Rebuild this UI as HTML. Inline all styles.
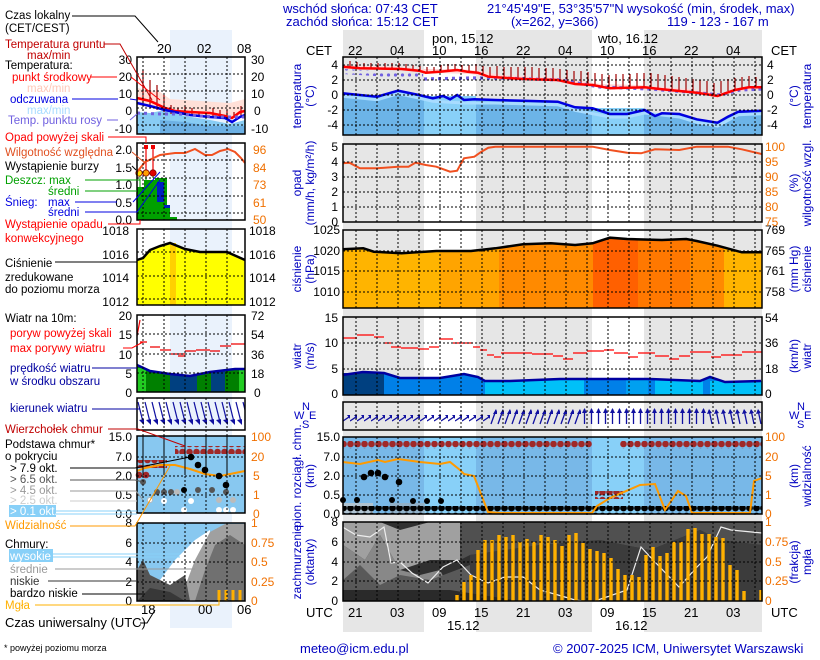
<!DOCTYPE html>
<html><head><meta charset="utf-8"><style>
body{margin:0;background:#fff;}
svg{display:block;font-family:"Liberation Sans",sans-serif;}
</style></head><body>
<svg width="820" height="660" viewBox="0 0 820 660" xmlns="http://www.w3.org/2000/svg">
<defs>
<pattern id="rd" x="340" y="0" width="7" height="8" patternUnits="userSpaceOnUse"><circle cx="3.5" cy="4" r="3.3" fill="#a02828"/></pattern>
<pattern id="bd" x="340" y="0" width="7" height="8" patternUnits="userSpaceOnUse"><circle cx="3.5" cy="4" r="3.4" fill="#000"/></pattern>
<pattern id="pd" x="343" y="0" width="7" height="6" patternUnits="userSpaceOnUse"><circle cx="3.5" cy="3" r="1.6" fill="#7060e0"/></pattern>
<pattern id="a1" x="343" y="402" width="7" height="28" patternUnits="userSpaceOnUse"><path d="M0,19 L9,13" stroke="#1010a0" stroke-width="1.3"/><path d="M9,13 L4,13 L7,17Z" fill="#1010a0"/></pattern>
<pattern id="a2" x="343" y="402" width="7" height="28" patternUnits="userSpaceOnUse"><path d="M1,22 L6,8" stroke="#1010a0" stroke-width="1.3"/><path d="M6,7 L3,12 L8,12Z" fill="#1010a0"/></pattern>
<pattern id="a3" x="343" y="402" width="7" height="28" patternUnits="userSpaceOnUse"><path d="M3.5,22 L3.5,7" stroke="#1010a0" stroke-width="1.3"/><path d="M3.5,6 L1,11 L6,11Z" fill="#1010a0"/></pattern>
<pattern id="a4" x="343" y="402" width="7" height="28" patternUnits="userSpaceOnUse"><path d="M5,22 L2,8" stroke="#1010a0" stroke-width="1.3"/><path d="M2,7 L0,12 L5,11Z" fill="#1010a0"/></pattern>
<pattern id="la" x="137" y="398" width="7" height="32" patternUnits="userSpaceOnUse"><path d="M1,4 L6,24" stroke="#1010a0" stroke-width="1.2"/><path d="M7,27 L2,22 L8,21Z" fill="#1010a0"/></pattern>
<pattern id="lr" x="137" y="0" width="7" height="8" patternUnits="userSpaceOnUse"><circle cx="3.5" cy="4" r="3.3" fill="#a02828"/></pattern>
<clipPath id="pc"><polygon points="342.5,249.3 363.3,248.3 373.8,251.7 401.5,253.3 436.3,251 471,251 495.3,248.3 523,244.3 550.8,243.3 575.1,245 592.5,243.3 609.9,237.7 627.2,239 661.9,240 686.3,239 696.7,241 717.5,245.7 741.8,252.3 761.6,252.3 762,308 343,308"/></clipPath>
<clipPath id="c1"><polygon points="343,69 400,72 423,74 423,79 343,74"/></clipPath>
<clipPath id="lc"><rect x="137" y="436" width="30" height="100"/></clipPath>
</defs>

<g fill="#0000c0" font-size="13">
<text x="283" y="13">wschód słońca: 07:43 CET</text>
<text x="286" y="26">zachód słońca: 15:12 CET</text>
<text x="487" y="13">21°45'49"E, 53°35'57"N</text>
<text x="511" y="26">(x=262,  y=366)</text>
<text x="627" y="13">wysokość (min, środek, max)</text>
<text x="667" y="26">119 - 123 - 167 m</text>
</g>

<g fill="#e6e6e6">
<rect x="343" y="30" width="81" height="602"/>
<rect x="476" y="30" width="116" height="602"/>
<rect x="644" y="30" width="118" height="602"/>
</g>
<g font-size="13" fill="#000">
<text x="432" y="43">pon, 15.12</text>
<text x="598" y="43">wto, 16.12</text>
<text x="306" y="55">CET</text><text x="771" y="55">CET</text>
<text x="348" y="55">22</text><text x="390" y="55">04</text><text x="432" y="55">10</text><text x="474" y="55">16</text><text x="516" y="55">22</text><text x="558" y="55">04</text><text x="600" y="55">10</text><text x="642" y="55">16</text><text x="684" y="55">22</text><text x="726" y="55">04</text>
<text x="306" y="617">UTC</text><text x="771" y="617">UTC</text>
<text x="348" y="617">21</text><text x="390" y="617">03</text><text x="432" y="617">09</text><text x="474" y="617">15</text><text x="516" y="617">21</text><text x="558" y="617">03</text><text x="600" y="617">09</text><text x="642" y="617">15</text><text x="684" y="617">21</text><text x="726" y="617">03</text>
<text x="447" y="630">15.12</text><text x="615" y="630">16.12</text>
</g>

<!-- TEMPERATURE -->
<polygon fill="#ffd8d8" points="342,65 400,67 420,69 460,69 480,71 500,75 560,78 600,84 640,85 700,90 720,94 735,88 762,85 762,89 735,92 717,98 700,94 650,90 600,87 560,82 500,78 470,74 440,73 400,70 342,68"/>
<polygon fill="#6cb4e8" points="342.5,93.3 377.2,96.7 398,90.7 418.9,95 432.8,98.3 443.2,96 450.1,99.3 457.1,95 464,100 474.4,99.3 495.3,100 523,100.7 557.8,101.7 575.1,107.3 592.5,108.3 609.9,114 627.2,114 644.6,110 655,116 661.9,113.3 679.3,114 696.7,119.3 717.5,122.7 727.9,116.7 738.3,111.7 761.6,110.7 762,135 343,135"/>
<rect x="424" y="96" width="52" height="39" fill="#88d0f8"/>
<rect x="592" y="108" width="52" height="27" fill="#88d0f8"/>
<polyline fill="none" stroke="#a8dcff" stroke-width="3" points="342.5,96.3 377.2,99.7 398,93.7 418.9,98 432.8,101.3 450.1,102.3 464,103 495.3,103 557.8,104.7 575.1,110.3 609.9,117 627.2,117 644.6,113 679.3,117 696.7,122.3 717.5,126 738.3,114.7 761.6,113.7"/>
<path fill="none" stroke="#a00000" stroke-width="1.2" d="M350,67V61M357,67V62M364,68V63M371,68V63M378,68V63M385,68V63M392,68V63M399,68V63M406,69V64M413,70V65M420,71V66M427,72V67M434,72V67M441,71V65M448,71V64M455,70V64M462,71V65M469,72V65M476,72V64M483,75V66M490,77V67M497,77V66M504,78V67M511,78V67M518,79V67M525,79V67M532,79V67M539,80V68M546,80V68M553,80V68M560,81V69M567,82V70M574,84V71M581,84V71M588,85V72M595,86V73M602,87V74M609,88V75M616,88V74M623,88V74M630,88V74M637,87V73M644,87V73M651,88V73M658,89V74M665,90V75M672,90V76M679,91V77M686,92V78M693,92V79M700,93V80M707,94V81M714,95V83M721,93V81M728,91V79M735,90V78M742,88V77M749,87V76M756,87V77"/>
<rect x="343" y="62" width="80" height="18" fill="url(#pd)" clip-path="url(#c1)"/>
<polyline fill="none" stroke="#7060e0" stroke-width="3.2" stroke-dasharray="3,4" points="424,79 470,78 500,78 560,80 600,87 650,89 700,93 720,95 740,90 762,89"/>
<polyline fill="none" stroke="#ff0000" stroke-width="2.5" points="342.5,66.7 359.9,68.3 401.5,69 418.9,70.7 425.8,72.7 439.7,71.7 457.1,70 467.5,71.7 477.9,72.7 488.3,76.7 523,79 557.8,80 575.1,84 592.5,85 609.9,88.3 644.6,87.3 661.9,89.3 696.7,92.7 717.5,96 734.9,90 748.8,87.3 761.6,87.3"/>
<polyline fill="none" stroke="#0000e0" stroke-width="2.5" points="342.5,93.3 377.2,96.7 398,90.7 418.9,95 432.8,98.3 443.2,96 450.1,99.3 457.1,95 464,100 474.4,99.3 495.3,100 523,100.7 557.8,101.7 575.1,107.3 592.5,108.3 609.9,114 627.2,114 644.6,110 655,116 661.9,113.3 679.3,114 696.7,119.3 717.5,122.7 727.9,116.7 738.3,111.7 761.6,110.7"/>

<!-- PRESSURE -->
<g clip-path="url(#pc)">
<rect x="343" y="230" width="419" height="78" fill="#ffb400"/>
<rect x="440" y="230" width="59" height="78" fill="#ffa400"/>
<rect x="499" y="230" width="94" height="78" fill="#ff8a00"/>
<rect x="593" y="230" width="45" height="78" fill="#ff6000"/>
<rect x="638" y="230" width="52" height="78" fill="#ff7800"/>
<rect x="690" y="230" width="34" height="78" fill="#ff8a00"/>
</g>
<polyline fill="none" stroke="#000" stroke-width="2.5" points="342.5,249.3 363.3,248.3 373.8,251.7 401.5,253.3 436.3,251 471,251 495.3,248.3 523,244.3 550.8,243.3 575.1,245 592.5,243.3 609.9,237.7 627.2,239 661.9,240 686.3,239 696.7,241 717.5,245.7 741.8,252.3 761.6,252.3"/>

<!-- WIND -->
<polygon fill="#0080e8" points="342.5,375 363,372 384,373 400,378 440,378 464,374 478,377 485,381 510,381 560,379 600,379 650,379 700,381 710,377 725,382 761,381 762,395 343,395"/>
<rect x="343" y="373" width="41" height="22" fill="#004080"/>
<rect x="485" y="380" width="99" height="15" fill="#00c0f8"/>
<rect x="626" y="380" width="22" height="15" fill="#00a0f0"/>
<rect x="655" y="380" width="48" height="15" fill="#00c0f8"/>
<rect x="710" y="381" width="52" height="14" fill="#00c0f8"/>
<polyline fill="none" stroke="#0000a0" stroke-width="2.5" points="342.5,375 363,372 384,373 400,378 440,378 464,374 478,377 485,381 510,381 560,379 600,379 650,379 700,381 710,377 725,382 761,381"/>
<path fill="none" stroke="#ff0000" stroke-width="1.2" d="M343,338h14M357,335h17M374,337h10M384,343h7M391,347h10M401,348h17M418,349h11M429,347h10M439,339h14M453,343h20M473,347h7M480,350h7M487,355h7M494,357h7M501,353h17M518,353h14M532,354h21M553,356h10M563,359h10M573,353h14M587,351h17M604,350h10M614,353h14M628,357h10M638,353h17M655,356h14M669,359h10M679,356h11M690,352h21M711,357h10M721,355h21M742,352h20"/>

<!-- WIND DIRECTION -->
<rect x="343" y="402" width="147" height="28" fill="url(#a1)"/>
<rect x="490" y="402" width="91" height="28" fill="url(#a2)"/>
<rect x="581" y="402" width="126" height="28" fill="url(#a3)"/>
<rect x="707" y="402" width="55" height="28" fill="url(#a4)"/>

<!-- CLOUD BASE -->
<rect x="343" y="437" width="419" height="77" fill="#78b8e8"/>
<rect x="424" y="437" width="52" height="77" fill="#88d0f8"/>
<rect x="592" y="437" width="52" height="77" fill="#88d0f8"/>
<rect x="343" y="441" width="249" height="8" fill="url(#rd)"/>
<rect x="620" y="441" width="142" height="8" fill="url(#rd)"/>
<rect x="595" y="491" width="28" height="8" fill="url(#rd)"/>
<rect x="343" y="503" width="30" height="10" fill="#c8c8c8" opacity=".7"/>
<rect x="390" y="503" width="35" height="10" fill="#aaa" opacity=".5"/>
<rect x="343" y="506" width="419" height="8" fill="url(#bd)"/>
<g fill="#000"><circle cx="364" cy="477" r="3.3"/><circle cx="371" cy="473" r="3.3"/><circle cx="378" cy="473" r="3.3"/><circle cx="385" cy="477" r="3.3"/><circle cx="399" cy="482" r="3.3"/><circle cx="343" cy="500" r="3"/><circle cx="357" cy="500" r="3"/><circle cx="392" cy="500" r="3"/><circle cx="413" cy="501" r="3"/><circle cx="427" cy="501" r="3"/><circle cx="441" cy="501" r="3"/></g>
<polyline fill="none" stroke="#ff9a00" stroke-width="2" points="342.5,462 360,464 378,460 385,462 398,459 420,462 440,464 450,462 460,470 464,474 474,476 488,512 500,513 580,513 592,513 597,506 610,498 640,485 655,484 665,510 678,491 686,496 692,513 750,513 754,481 762,478"/>

<!-- CLOUDS -->
<rect x="343" y="522" width="419" height="79" fill="#303030"/>
<polygon fill="#a0a0a0" points="343,522 380,522 400,530 430,522 460,522 460,560 430,560 400,570 380,535 365,560 343,545"/>
<polygon fill="#888" points="343,545 365,560 380,535 400,570 420,575 440,570 450,590 343,590"/>
<polygon fill="#595959" points="343,580 360,565 380,585 400,575 430,580 470,565 500,601 343,601"/>
<polygon fill="#505050" points="460,522 762,522 762,545 720,540 700,530 650,550 600,540 540,545 470,555 460,560"/>
<polygon fill="#3c3c3c" points="470,555 540,545 600,540 650,550 700,530 720,540 762,545 762,601 470,601"/>
<polygon fill="#2a2a2a" points="343,590 450,590 520,601 343,601"/>
<polyline fill="none" stroke="#eee" stroke-width="1.2" points="342.5,527 356,535 370,537 384,527 391,563 400,562 412,573 428,583 443,567 457,560 471,575 488,583 505,577 523,577 540,590 558,595 575,600 592,602 627,590 641,547 655,562 679,587 697,567 707,557 721,527 731,530 762,533"/>
<path fill="none" stroke="#ffb000" stroke-width="3.4" d="M457,601V595M464,601V582M471,601V575M478,601V550M485,601V540M492,601V540M499,601V535M506,601V537M513,601V535M520,601V542M527,601V539M534,601V542M541,601V535M548,601V537M555,601V540M562,601V546M569,601V535M576,601V533M583,601V543M590,601V549M597,601V551M604,601V553M611,601V558M618,601V569M625,601V575M632,601V575M639,601V577M646,601V555M653,601V547M660,601V556M667,601V553M674,601V542M681,601V542M688,601V529M695,601V528M702,601V534M709,601V534M716,601V537M723,601V538M730,601V565M737,601V570M744,601V591M761,601V590"/>

<polyline fill="none" stroke="#f05020" stroke-width="2" points="342.5,163.3 349.4,162.7 359.9,168.3 377.2,168.3 398,166.7 408.5,166.7 415.4,162.7 425.8,165 436.3,166.7 450.1,171.7 457.1,170.7 464,158.3 474.4,156.7 481.4,151.7 488.3,147.7 495.3,146.7 592.5,146.7 609.9,150 627.2,152.7 641.1,153.3 655,149.3 679.3,150 696.7,146.7 727.9,146.7 741.8,149.3 761.6,154"/>

<g stroke="#000" stroke-width="1" stroke-dasharray="2,2" fill="none">
<path d="M343,65H762M343,80H762M343,95H762M343,110H762M343,125H762"/>
<path d="M343,162H762M343,177H762M343,192H762M343,207H762"/>
<path d="M343,251H762M343,271H762M343,292H762"/>
<path d="M343,343H762M343,369H762"/>
<path d="M343,457H762M343,476H762M343,495H762"/>
<path d="M343,542H762M343,562H762M343,581H762"/>
<path id="vg" d="M356,57V135M377,57V135M398,57V135M419,57V135M440,57V135M461,57V135M482,57V135M503,57V135M524,57V135M545,57V135M566,57V135M587,57V135M608,57V135M629,57V135M650,57V135M671,57V135M692,57V135M713,57V135M734,57V135M755,57V135"/>
<use href="#vg" transform="translate(0,87)"/>
<use href="#vg" transform="translate(0,173)"/>
<use href="#vg" transform="translate(0,260)"/>
<path d="M356,402V430M377,402V430M398,402V430M419,402V430M440,402V430M461,402V430M482,402V430M503,402V430M524,402V430M545,402V430M566,402V430M587,402V430M608,402V430M629,402V430M650,402V430M671,402V430M692,402V430M713,402V430M734,402V430M755,402V430"/>
<use href="#vg" transform="translate(0,380)"/>
<use href="#vg" transform="translate(0,465)"/>
</g>
<g fill="none" stroke="#000" stroke-width="1.5">
<rect x="343" y="57" width="419" height="78"/>
<rect x="343" y="144" width="419" height="78"/>
<rect x="343" y="230" width="419" height="78"/>
<rect x="343" y="317" width="419" height="78"/>
<rect x="343" y="402" width="419" height="28"/>
<rect x="343" y="437" width="419" height="77"/>
<rect x="343" y="522" width="419" height="79"/>
</g>

<g font-size="12" fill="#000" text-anchor="end">
<text x="338" y="69">4</text><text x="338" y="84">2</text><text x="338" y="99">0</text><text x="338" y="114">-2</text><text x="338" y="129">-4</text>
<text x="338" y="151">5</text><text x="338" y="166">4</text><text x="338" y="181">3</text><text x="338" y="196">2</text><text x="338" y="211">1</text><text x="338" y="226">0</text>
<text x="340" y="234">1025</text><text x="340" y="255">1020</text><text x="340" y="275">1015</text><text x="340" y="296">1010</text>
<text x="338" y="322">15</text><text x="338" y="347">10</text><text x="338" y="373">5</text><text x="338" y="398">0</text>
<text x="340" y="441">15.0</text><text x="340" y="461">7.0</text><text x="340" y="480">2.0</text><text x="340" y="499">0.5</text><text x="340" y="518">0.0</text>
<text x="338" y="526">8</text><text x="338" y="546">6</text><text x="338" y="566">4</text><text x="338" y="585">2</text><text x="338" y="605">0</text>
</g>
<g font-size="12" fill="#000">
<text x="767" y="69">4</text><text x="767" y="84">2</text><text x="767" y="99">0</text><text x="767" y="114">-2</text><text x="767" y="129">-4</text>
<text x="765" y="234">769</text><text x="765" y="255">765</text><text x="765" y="275">761</text><text x="765" y="296">758</text>
<text x="765" y="322">54</text><text x="765" y="347">36</text><text x="765" y="373">18</text><text x="765" y="398">0</text>
</g>
<g font-size="12" fill="#f07000">
<text x="765" y="151">100</text><text x="765" y="166">95</text><text x="765" y="181">90</text><text x="765" y="196">85</text><text x="765" y="211">80</text><text x="765" y="226">75</text>
<text x="765" y="441">100</text><text x="765" y="461">20</text><text x="765" y="480">5</text><text x="765" y="499">1</text><text x="765" y="518">0</text>
<text x="765" y="526">1</text><text x="765" y="546">0.75</text><text x="765" y="566">0.5</text><text x="765" y="585">0.25</text><text x="765" y="605">0</text>
</g>
<g font-size="12" fill="#0000c0" text-anchor="middle">
<text transform="translate(301,96) rotate(-90)">temperatura</text><text transform="translate(314,96) rotate(-90)">(°C)</text>
<text transform="translate(301,183) rotate(-90)">opad</text><text transform="translate(314,183) rotate(-90)">(mm/h, kg/m²/h)</text>
<text transform="translate(301,269) rotate(-90)">ciśnienie</text><text transform="translate(314,269) rotate(-90)">(hPa)</text>
<text transform="translate(301,356) rotate(-90)">wiatr</text><text transform="translate(314,356) rotate(-90)">(m/s)</text>
<text transform="translate(301,476) rotate(-90)">pion. rozciągł. chm.</text><text transform="translate(314,476) rotate(-90)">(km)</text>
<text transform="translate(301,562) rotate(-90)">zachmurzenie</text><text transform="translate(314,562) rotate(-90)">(oktanty)</text>
<text transform="translate(798,96) rotate(-90)">(°C)</text><text transform="translate(811,96) rotate(-90)">temperatura</text>
<text transform="translate(798,183) rotate(-90)">(%)</text><text transform="translate(811,183) rotate(-90)">wilgotność wzgl.</text>
<text transform="translate(798,269) rotate(-90)">(mm Hg)</text><text transform="translate(811,269) rotate(-90)">ciśnienie</text>
<text transform="translate(798,356) rotate(-90)">(km/h)</text><text transform="translate(811,356) rotate(-90)">wiatr</text>
<text transform="translate(798,476) rotate(-90)">(km)</text><text transform="translate(811,476) rotate(-90)">widzialność</text>
<text transform="translate(798,562) rotate(-90)">(frakcja)</text><text transform="translate(811,562) rotate(-90)">mgła</text>
</g>
<g font-size="11" fill="#0000c0"><text x="294" y="419">W</text><text x="302" y="410">N</text><text x="302" y="428">S</text><text x="309" y="419">E</text>
<text x="789" y="419">W</text><text x="797" y="410">N</text><text x="797" y="428">S</text><text x="804" y="419">E</text></g>

<!-- LEFT LEGEND -->
<rect x="170" y="30" width="62" height="598" fill="#eaf2fc"/>
<polygon fill="#ffe0d8" points="137,88 160,92 170,99 200,101 230,103 245,99 245,114 230,118 200,116 170,112 137,105"/>
<polygon fill="#88ccf4" points="137,112 150,113 165,110 185,116 210,120 230,124 245,120 245,134 137,134"/>
<polygon fill="#6cb0e4" points="160,120 185,122 210,126 245,126 245,134 160,134"/>
<path stroke="#a00000" stroke-width="1.2" d="M143,104V70M150,107V80M157,110V85M164,112V95M171,114V105M178,114V108M185,114V106M192,115V108M199,115V112M206,116V112M213,117V108M220,118V110M227,119V110M234,118V112M241,116V106"/>
<polyline fill="none" stroke="#ff0000" stroke-width="2.5" points="137,98 150,101 165,108 175,111 190,112 210,113 225,116 232,118 240,112 245,111"/>
<polyline fill="none" stroke="#0000e0" stroke-width="2.5" points="137,103 150,106 165,110 175,112 190,115 210,117 225,118 232,122 240,117 245,115"/>
<polyline fill="none" stroke="#7060e0" stroke-width="3" stroke-dasharray="3,4" points="137,113 160,114 180,114 200,116 220,117 245,117"/>
<rect x="137" y="187" width="18" height="33" fill="#00a000"/>
<rect x="144" y="180" width="18" height="40" fill="#00a000"/>
<rect x="155" y="178" width="12" height="42" fill="#00a000"/>
<rect x="157" y="182" width="7" height="20" fill="#0020c0"/>
<rect x="164" y="205" width="6" height="15" fill="#0020c0"/>
<rect x="164" y="208" width="6" height="12" fill="#00a000"/>
<rect x="170" y="217" width="7" height="3" fill="#00a000"/>
<path stroke="#00a000" d="M140,174V187M146,174V180M153,174V178"/>
<path stroke="#e00" stroke-width="1.2" d="M146,148V174M153,148V174"/>
<rect x="144" y="145" width="4" height="4" fill="#e00"/><rect x="151" y="145" width="4" height="4" fill="#e00"/>
<circle cx="139" cy="173" r="3.2" fill="#ffe000" stroke="#800" stroke-width=".8"/><circle cx="146" cy="173" r="3.2" fill="#ffa000" stroke="#800" stroke-width=".8"/><circle cx="153" cy="173" r="3.2" fill="#e00000" stroke="#800" stroke-width=".8"/>
<polyline fill="none" stroke="#f05020" stroke-width="2" points="137,172 145,162 160,155 175,153 185,153 195,149 205,155 212,155 220,151 228,149 235,152 241,158 245,163"/>
<polygon fill="#ffff00" points="137,260 143,258 150,250 160,246 170,243 185,249 200,252 227,252 245,260 245,305 137,305"/>
<rect x="170" y="243" width="6" height="62" fill="#ffd000"/>
<polyline fill="none" stroke="#000" stroke-width="2.5" points="137,260 143,258 150,250 160,246 170,243 185,249 200,252 227,252 245,260"/>
<polygon fill="#008000" points="137,365 150,371 170,374 190,376 210,372 235,369 245,369 245,392 137,392"/>
<rect x="137" y="368" width="9" height="24" fill="#22cc22"/>
<rect x="239" y="369" width="6" height="23" fill="#22cc22"/>
<rect x="170" y="375" width="27" height="17" fill="#004080"/>
<rect x="211" y="371" width="14" height="21" fill="#004080"/>
<polyline fill="none" stroke="#0000a0" stroke-width="2.5" points="137,365 150,371 170,374 190,376 210,372 235,369 245,369"/>
<path stroke="#e00" stroke-width="1.2" fill="none" d="M137,336L140,320M140,342h7M150,347h10M160,350h11M171,354h14M178,356h7M185,351h11M196,350h14M210,351h10M220,346h11M231,344h14"/>
<rect x="137" y="398" width="108" height="32" fill="url(#la)"/>
<rect x="137" y="436" width="108" height="77" fill="#88c8f0"/>
<rect x="137" y="460" width="108" height="8" fill="url(#lr)" clip-path="url(#lc)"/>
<rect x="175" y="446" width="70" height="8" fill="url(#lr)"/>
<circle cx="139" cy="475" r="3.3" fill="#a02828"/><circle cx="146" cy="475" r="3.3" fill="#a02828"/>
<polyline fill="none" stroke="#ff9a00" stroke-width="2" points="137,471 145,468 160,465 175,465 190,469 205,474 220,476 235,473 245,471"/>
<g fill="#000"><circle cx="191" cy="457" r="3.3"/><circle cx="198" cy="465" r="3.3"/><circle cx="205" cy="470" r="3.3"/><circle cx="219" cy="476" r="3.3"/><circle cx="226" cy="485" r="3.3"/><circle cx="184" cy="490" r="3"/></g>
<g fill="#555"><circle cx="157" cy="492" r="3"/><circle cx="164" cy="492" r="3"/><circle cx="171" cy="492" r="3"/><circle cx="198" cy="490" r="3"/><circle cx="212" cy="490" r="3"/><circle cx="226" cy="492" r="3"/><circle cx="143" cy="482" r="3"/></g>
<g fill="#bbb"><circle cx="150" cy="500" r="3"/><circle cx="177" cy="492" r="3"/><circle cx="219" cy="500" r="3"/><circle cx="233" cy="500" r="3"/></g>
<g fill="#fff"><circle cx="150" cy="500" r="2"/><circle cx="164" cy="501" r="3"/><circle cx="191" cy="501" r="3"/><circle cx="219" cy="510" r="3"/><circle cx="226" cy="510" r="3"/><circle cx="233" cy="510" r="3"/><circle cx="184" cy="510" r="3"/></g>
<rect x="137" y="523" width="108" height="78" fill="#88c8f0"/>
<polygon fill="#ffffff" points="160,580 175,560 195,540 210,530 210,601 160,601"/>
<polygon fill="#a0a0a0" points="180,600 195,560 210,532 225,524 245,524 245,601"/>
<polygon fill="#707070" points="195,601 205,570 215,545 230,535 245,545 245,601"/>
<polygon fill="#555" points="137,601 137,570 143,560 150,575 170,585 185,575 190,601"/>
<polygon fill="#383838" points="137,601 150,588 170,592 185,601"/>
<path stroke="#ffb000" stroke-width="3" d="M219,601V590M226,601V590M233,601V590M240,601V590"/>
<g font-size="13" fill="#000">
<text x="141" y="614">18</text><text x="198" y="614">00</text><text x="237" y="614">06</text>
<text x="157" y="53">20</text><text x="197" y="53">02</text><text x="237" y="53">08</text>
</g>
<g stroke="#000" stroke-dasharray="2,2" fill="none">
<path id="lg" d="M143,57V134M164,57V134M185,57V134M206,57V134M227,57V134"/>
<use href="#lg" transform="translate(0,86)"/><use href="#lg" transform="translate(0,172)"/><use href="#lg" transform="translate(0,258)"/><use href="#lg" transform="translate(0,341)"/><use href="#lg" transform="translate(0,379)"/><use href="#lg" transform="translate(0,466)"/>
<path d="M137,74H245M137,91H245M137,108H245M137,125H245M137,160H245M137,178H245M137,196H245M137,213H245M137,252H245M137,276H245M137,299H245M137,334H245M137,354H245M137,373H245M137,457H245M137,476H245M137,495H245M137,543H245M137,562H245M137,582H245"/>
</g>
<g fill="none" stroke="#000" stroke-width="1.5">
<rect x="137" y="57" width="108" height="77"/><rect x="137" y="143" width="108" height="77"/><rect x="137" y="229" width="108" height="76"/><rect x="137" y="315" width="108" height="77"/><rect x="137" y="398" width="108" height="32"/><rect x="137" y="436" width="108" height="77"/><rect x="137" y="523" width="108" height="78"/>
</g>
<g font-size="12" fill="#000" text-anchor="end">
<text x="132" y="64">30</text><text x="132" y="81">20</text><text x="132" y="98">10</text><text x="132" y="115">0</text><text x="132" y="133">-10</text>
<text x="132" y="154">2.0</text><text x="132" y="172">1.5</text><text x="132" y="189">1.0</text><text x="132" y="207">0.5</text><text x="132" y="224">0.0</text>
<text x="129" y="235">1018</text><text x="129" y="259">1016</text><text x="129" y="282">1014</text><text x="129" y="306">1012</text>
<text x="132" y="320">20</text><text x="132" y="339">15</text><text x="132" y="359">10</text><text x="132" y="378">5</text><text x="132" y="397">0</text>
<text x="132" y="441">15.0</text><text x="132" y="461">7.0</text><text x="132" y="480">2.0</text><text x="132" y="499">0.5</text><text x="132" y="518">0.0</text>
<text x="132" y="527">8</text><text x="132" y="547">6</text><text x="132" y="566">4</text><text x="132" y="586">2</text><text x="132" y="605">0</text>
</g>
<g font-size="12" fill="#000">
<text x="251" y="64">30</text><text x="251" y="81">20</text><text x="251" y="98">10</text><text x="254" y="115">0</text><text x="251" y="133">-10</text>
<text x="249" y="235">1018</text><text x="249" y="259">1016</text><text x="249" y="282">1014</text><text x="249" y="306">1012</text>
<text x="251" y="320">72</text><text x="251" y="339">54</text><text x="251" y="359">36</text><text x="251" y="378">18</text><text x="254" y="397">0</text>
</g>
<g font-size="12" fill="#f07000">
<text x="253" y="154">96</text><text x="253" y="172">84</text><text x="253" y="189">73</text><text x="253" y="207">61</text><text x="253" y="224">50</text>
<text x="251" y="441">100</text><text x="251" y="461">20</text><text x="253" y="480">5</text><text x="253" y="499">1</text><text x="253" y="518">0</text>
<text x="251" y="527">1</text><text x="251" y="547">0.75</text><text x="251" y="566">0.5</text><text x="251" y="586">0.25</text><text x="251" y="605">0</text>
</g>
<g font-size="11.5">
<text x="5" y="19" fill="#000">Czas lokalny</text><text x="5" y="32" fill="#000">(CET/CEST)</text>
<text x="5" y="48" fill="#c00000">Temperatura gruntu</text><text x="27" y="59" fill="#c00000">max/min</text>
<text x="5" y="69" fill="#000">Temperatura:</text>
<text x="12" y="81" fill="#ff0000">punkt środkowy</text>
<text x="27" y="92" fill="#ffc8b8">max/min</text>
<text x="10" y="103" fill="#0000e0">odczuwana</text>
<text x="27" y="114" fill="#a8dcff">max/min</text>
<text x="8" y="124" fill="#7060e0">Temp. punktu rosy</text>
<text x="5" y="141" fill="#ff0000">Opad powyżej skali</text>
<text x="5" y="156" fill="#e05020">Wilgotność względna</text>
<text x="5" y="170" fill="#000">Wystąpienie burzy</text>
<text x="5" y="184" fill="#00a000">Deszcz: max</text>
<text x="48" y="195" fill="#00a000">średni</text>
<text x="5" y="206" fill="#0000e0">Śnieg:</text><text x="48" y="206" fill="#0000e0">max</text>
<text x="48" y="216" fill="#0000e0">średni</text>
<text x="5" y="228" fill="#ff0000">Wystąpienie opadu</text><text x="5" y="242" fill="#ff0000">konwekcyjnego</text>
<text x="5" y="267" fill="#000">Ciśnienie</text><text x="5" y="281" fill="#000">zredukowane</text><text x="5" y="293" fill="#000">do poziomu morza</text>
<text x="5" y="322" fill="#000">Wiatr na 10m:</text>
<text x="10" y="337" fill="#ff0000">poryw powyżej skali</text>
<text x="10" y="352" fill="#ff0000">max porywy wiatru</text>
<text x="10" y="372" fill="#0000a0">prędkość wiatru</text>
<text x="10" y="385" fill="#0000a0">w środku obszaru</text>
<text x="10" y="412" fill="#0000a0">kierunek wiatru</text>
<text x="5" y="433" fill="#c00000">Wierzchołek chmur</text>
<text x="5" y="448" fill="#000">Podstawa chmur*</text><text x="5" y="460" fill="#000">o pokryciu</text>
<text x="10" y="472" fill="#000">&gt; 7.9 okt.</text>
<text x="10" y="483" fill="#555">&gt; 6.5 okt.</text>
<text x="10" y="494" fill="#999">&gt; 4.5 okt.</text>
<text x="10" y="504" fill="#ccc">&gt; 2.5 okt.</text>
<rect x="9" y="505" width="47" height="12" fill="#88d0f8"/><text x="10" y="515" fill="#fff">&gt; 0.1 okt.</text>
<text x="5" y="529" fill="#ff9a00">Widzialność</text>
<text x="5" y="548" fill="#000">Chmury:</text>
<rect x="9" y="549" width="44" height="13" fill="#88d0f8"/><text x="10" y="560" fill="#fff">wysokie</text>
<text x="10" y="573" fill="#999">średnie</text>
<text x="10" y="585" fill="#333">niskie</text>
<text x="10" y="597" fill="#000">bardzo niskie</text>
<text x="5" y="609" fill="#ffb000">Mgła</text>
<text x="5" y="627" fill="#000" font-size="13">Czas uniwersalny (UTC)</text>
<text x="4" y="651" fill="#000" font-size="9">* powyżej poziomu morza</text>
</g>
<g fill="none" stroke-width="1">
<path stroke="#000" d="M72,16H135L158,42"/>
<path stroke="#c00000" d="M104,44H120L152,100"/>
<path stroke="#ff0000" d="M91,77H117M131,77L160,100"/>
<path stroke="#0000e0" d="M72,99H118M130,99L137,100"/>
<path stroke="#7060e0" d="M107,120H118M130,120L137,114"/>
<path stroke="#ff0000" d="M108,137H146V143"/>
<path stroke="#e05020" d="M132,152L145,163"/>
<path stroke="#000" d="M132,166L136,170"/>
<path stroke="#00a000" d="M85,180H140V187M85,191H137"/>
<path stroke="#0000e0" d="M75,202H117M133,202L160,172M85,212H137L160,180"/>
<path stroke="#ff0000" d="M108,224H140V220"/>
<path stroke="#000" d="M55,262H137"/>
<path stroke="#ff0000" d="M123,348H132L143,342"/>
<path stroke="#0000a0" d="M92,368H137"/>
<path stroke="#0000a0" d="M92,409H140"/>
<path stroke="#c00000" d="M108,429H138L185,446"/>
<path stroke="#000" d="M70,468H135L190,457"/>
<path stroke="#555" d="M70,480H135L143,482"/>
<path stroke="#999" d="M70,491H136L143,500"/>
<path stroke="#ccc" d="M70,501H137"/>
<path stroke="#88d0f8" d="M56,511H137M56,514H137"/>
<path stroke="#ff9a00" d="M70,526H135L170,466"/>
<path stroke="#88d0f8" d="M53,554H180M53,557H180"/>
<path stroke="#999" d="M55,569H195"/>
<path stroke="#333" d="M48,581H137"/>
<path stroke="#000" d="M82,594H145"/>
<path stroke="#ffb000" d="M35,605H219V596"/>
<path stroke="#000" d="M140,623H147L155,610"/>
</g>

<g font-size="13" fill="#0000c0">
<text x="300" y="653">meteo@icm.edu.pl</text>
<text x="553" y="653">© 2007-2025 ICM, Uniwersytet Warszawski</text>
</g>
</svg>
</body></html>
